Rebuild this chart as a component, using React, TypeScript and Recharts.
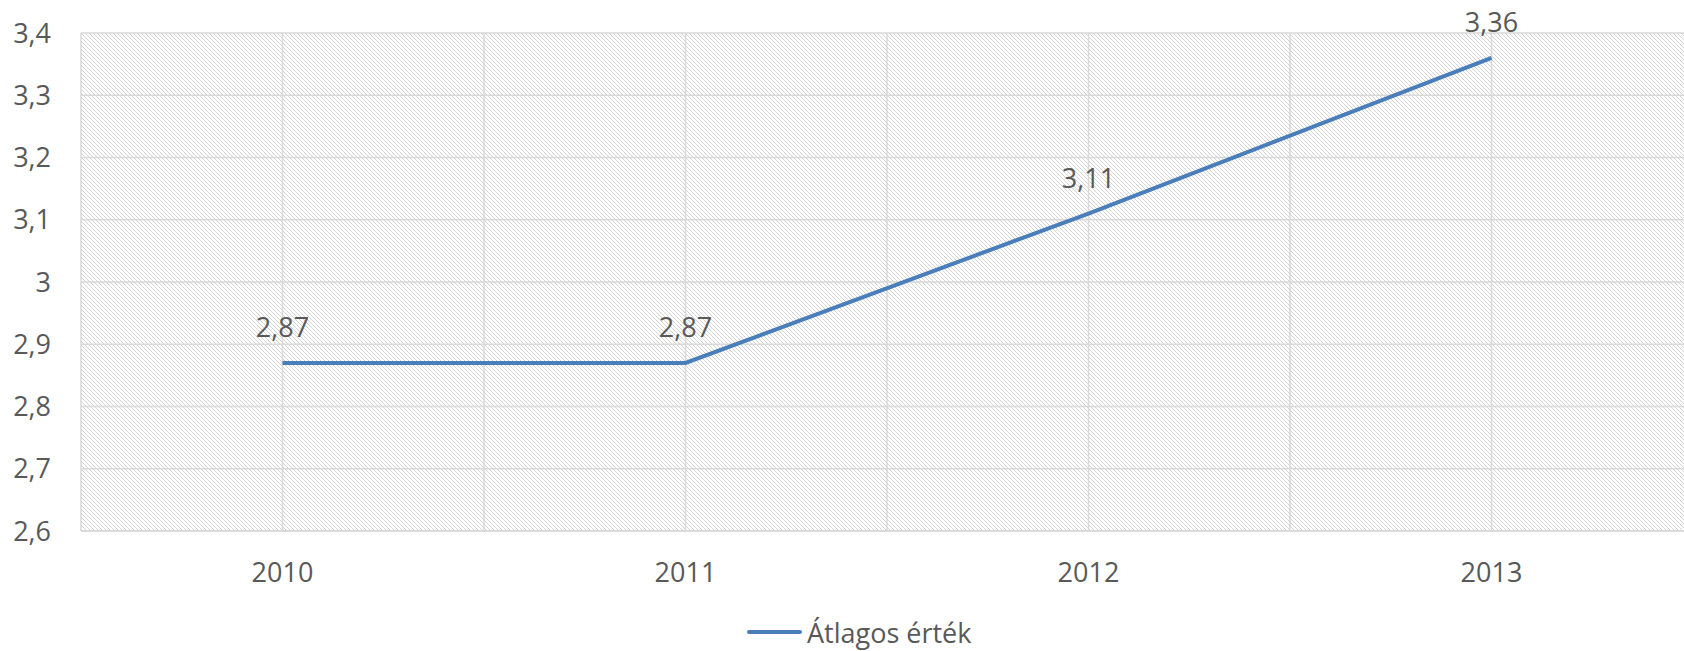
import {
  CartesianGrid,
  LabelList,
  Legend,
  Line,
  LineChart,
  XAxis,
  YAxis,
} from 'recharts';

const years = [2010, 2011, 2012, 2013];
const averages = [2.87, 2.87, 3.11, 3.36];
const yTicks = [2.6, 2.7, 2.8, 2.9, 3.0, 3.1, 3.2, 3.3, 3.4];
const xTicks = [2009.5, 2010, 2010.5, 2011, 2011.5, 2012, 2012.5, 2013, 2013.5];
const seriesName = 'Átlagos érték';

const data = years.map((year, i) => ({ year, value: averages[i] }));

const FONT = '"Open Sans", "Noto Sans", sans-serif';
const TEXT = '#595959';
const LINE = '#4a7ebb';

const comma = (v: number) => String(Number(v.toFixed(2))).replace('.', ',');

function LegendContent() {
  return (
    <div style={{ display: 'flex', alignItems: 'center', height: 38, lineHeight: '37px', fontFamily: FONT, fontSize: 27, color: TEXT }}>
      <span style={{ display: 'inline-block', width: 55, height: 4, background: LINE, borderRadius: 2, marginRight: 5 }} />
      {seriesName}
    </div>
  );
}

export default function App() {
  return (
    <div style={{ position: 'fixed', left: 0, top: 0, width: 1684, height: 651, overflow: 'hidden', background: '#fff' }}>
      <LineChart width={1700} height={651} data={data} margin={{ top: 33, right: 7, bottom: 0, left: 0 }}>
        <defs>
          <pattern id="hatch" width="4" height="4" patternUnits="userSpaceOnUse">
            <rect width="4" height="4" fill="#ffffff" />
            <path d="M-1,-1 L5,5 M3,-1 L5,1 M-1,3 L1,5" stroke="#d4d4d4" strokeWidth="1" />
          </pattern>
        </defs>
        <CartesianGrid stroke="#d9d9d9" strokeWidth={1.5} fill="url(#hatch)" fillOpacity={1} />
        <XAxis
          dataKey="year"
          type="number"
          domain={[2009.5, 2013.5]}
          ticks={xTicks}
          interval={0}
          tickFormatter={(v: number) => (Number.isInteger(v) ? String(v) : '')}
          tick={{ fill: TEXT, fontSize: 27, fontFamily: FONT }}
          axisLine={{ stroke: '#d9d9d9', strokeWidth: 1.5 }}
          tickLine={false}
          tickSize={0}
          tickMargin={32}
          height={82}
        />
        <YAxis
          domain={[2.6, 3.4]}
          ticks={yTicks}
          interval={0}
          allowDataOverflow
          tickFormatter={(v: number) => comma(v)}
          tick={{ fill: TEXT, fontSize: 27, fontFamily: FONT }}
          axisLine={false}
          tickLine={false}
          tickSize={0}
          tickMargin={30}
          width={81}
        />
        <Legend
          verticalAlign="bottom"
          content={<LegendContent />}
          wrapperStyle={{ left: 747, width: 'auto', height: 38 }}
        />
        <Line
          name={seriesName}
          dataKey="value"
          type="linear"
          stroke={LINE}
          strokeWidth={4}
          dot={false}
          activeDot={false}
          isAnimationActive={false}
        >
          <LabelList
            dataKey="value"
            position="top"
            offset={26}
            formatter={(v: number) => comma(v)}
            style={{ fill: TEXT, fontSize: 27, fontFamily: FONT }}
          />
        </Line>
      </LineChart>
    </div>
  );
}
